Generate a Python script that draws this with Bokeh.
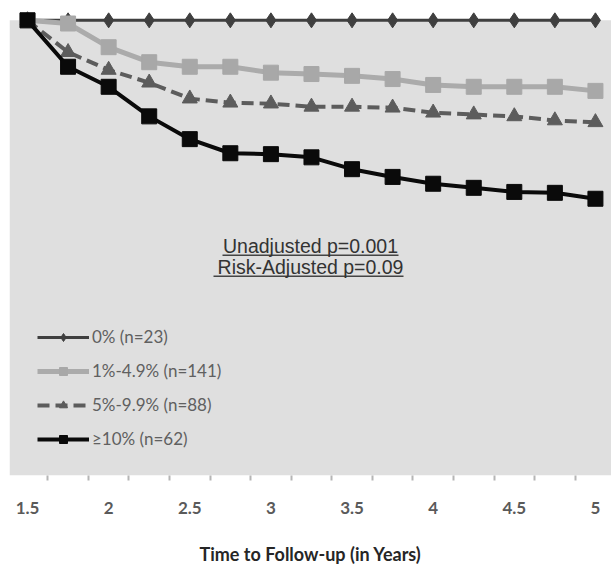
from bokeh.plotting import figure
from bokeh.models import Range1d, FixedTicker, BoxAnnotation, Label, Legend, LegendItem
from bokeh.embed import file_html
from bokeh.resources import INLINE

# ---- data ----
times = [1.5, 1.75, 2.0, 2.25, 2.5, 2.75, 3.0, 3.25, 3.5, 3.75, 4.0, 4.25, 4.5, 4.75, 5.0]
s_0pct = [1.000, 1.000, 1.000, 1.000, 1.000, 1.000, 1.000, 1.000, 1.000, 1.000, 1.000, 1.000, 1.000, 1.000, 1.000]
s_1to49 = [1.000, 0.993, 0.941, 0.908, 0.898, 0.898, 0.885, 0.882, 0.878, 0.871, 0.858, 0.854, 0.854, 0.854, 0.845]
s_5to99 = [1.000, 0.930, 0.891, 0.863, 0.828, 0.819, 0.817, 0.810, 0.810, 0.808, 0.797, 0.793, 0.789, 0.780, 0.776]
s_10plus = [1.000, 0.898, 0.854, 0.789, 0.739, 0.708, 0.706, 0.699, 0.673, 0.656, 0.641, 0.632, 0.623, 0.621, 0.608]
series_labels = ["0% (n=23)", "1%-4.9% (n=141)", "5%-9.9% (n=88)", "\u226510% (n=62)"]
tick_values = [1.5, 2.0, 2.5, 3.0, 3.5, 4.0, 4.5, 5.0]
tick_labels = ["1.5", "2", "2.5", "3", "3.5", "4", "4.5", "5"]
note_lines = ["Unadjusted p=0.001", "Risk-Adjusted p=0.09"]
x_title = "Time to Follow-up (in Years)"

# ---- layout ----
X0, X1 = 1.389, 5.099
Y0, Y1 = 0.0, 479 / 459
W, H = 611, 567
FRAME_LEFT, FRAME_W = 9, 602
FRAME_TOP, FRAME_BOTTOM = 0, 479

def xdata(px):
    return X0 + (px - FRAME_LEFT) / FRAME_W * (X1 - X0)

def ydata(py):
    return Y0 + (FRAME_BOTTOM - py) / (FRAME_BOTTOM - FRAME_TOP) * (Y1 - Y0)

p = figure(width=W, height=H, output_backend="svg", toolbar_location=None,
           x_range=Range1d(X0, X1), y_range=Range1d(Y0, Y1), y_axis_type=None,
           min_border_left=FRAME_LEFT, min_border_right=0, min_border_top=0,
           min_border_bottom=H - FRAME_BOTTOM)
p.background_fill_color = "white"
p.border_fill_color = "white"
p.outline_line_color = None
p.grid.visible = False

p.add_layout(BoxAnnotation(top=1.0, fill_color="#dfdfdf", fill_alpha=1.0,
                           line_color=None, level="underlay"))

# series
r0l = p.line(times, s_0pct, line_color="#3f3f3f", line_width=3)
r0s = p.scatter(times, s_0pct, marker="diamond", size=15, fill_color="#3f3f3f", line_color="#3f3f3f")

r1l = p.line(times, s_1to49, line_color="#ababab", line_width=5)
r1s = p.scatter(times, s_1to49, marker="square", size=15, fill_color="#a8a8a8", line_color="#a8a8a8")

r2l = p.line(times, s_5to99, line_color="#5c5c5c", line_width=4, line_dash="12 6")
r2s = p.scatter(times, s_5to99, marker="triangle", size=15, fill_color="#5c5c5c", line_color="#5c5c5c")

r3l = p.line(times, s_10plus, line_color="#0a0a0a", line_width=4)
r3s = p.scatter(times, s_10plus, marker="square", size=15, fill_color="#0a0a0a", line_color="#0a0a0a")

legend = Legend(items=[
    LegendItem(label=series_labels[0], renderers=[r0l, r0s]),
    LegendItem(label=series_labels[1], renderers=[r1l, r1s]),
    LegendItem(label=series_labels[2], renderers=[r2l, r2s]),
    LegendItem(label=series_labels[3], renderers=[r3l, r3s]),
], location=(28, 26))
legend.background_fill_alpha = 0
legend.border_line_color = None
legend.padding = 0
legend.margin = 0
legend.spacing = 13
legend.glyph_width = 52
legend.glyph_height = 20
legend.label_height = 20
legend.label_standoff = 3
legend.label_text_font = "Lato"
legend.label_text_font_size = "17px"
legend.label_text_color = "#606060"
p.add_layout(legend, "center")

# annotation text with underline
note_y_px = [248, 269]
note_span_px = [(222, 398), (213, 403)]
for txt, ypx, (a, b) in zip(note_lines, note_y_px, note_span_px):
    p.add_layout(Label(x=xdata(310), y=ydata(ypx), text=txt, text_align="center",
                       text_baseline="middle", text_font="Liberation Sans",
                       text_font_size="19.5px", text_color="#333333"))
    p.segment(x0=[xdata(a)], y0=[ydata(ypx + 9)], x1=[xdata(b)], y1=[ydata(ypx + 9)],
              line_color="#444444", line_width=1.5)

# x axis
mids = [(times[i] + times[i + 1]) / 2 for i in range(len(times) - 1)]
ax = p.xaxis[0]
ax.ticker = FixedTicker(ticks=tick_values, minor_ticks=mids)
ax.major_label_overrides = {v: s for v, s in zip(tick_values, tick_labels)}
ax.axis_line_color = None
ax.major_tick_line_color = None
ax.major_tick_out = 0
ax.major_tick_in = 0
ax.minor_tick_line_color = "#b5b5b5"
ax.minor_tick_line_width = 2
ax.minor_tick_out = 5
ax.minor_tick_in = 0
ax.major_label_standoff = 21
ax.major_label_text_font = "Lato"
ax.major_label_text_font_style = "bold"
ax.major_label_text_font_size = "17px"
ax.major_label_text_color = "#5a5a5a"
ax.axis_label = x_title
ax.axis_label_standoff = 26
ax.axis_label_text_font = "Lato"
ax.axis_label_text_font_style = "bold"
ax.axis_label_text_font_size = "18px"
ax.axis_label_text_color = "#262626"

open("out.html", "w").write(file_html(p, INLINE))
